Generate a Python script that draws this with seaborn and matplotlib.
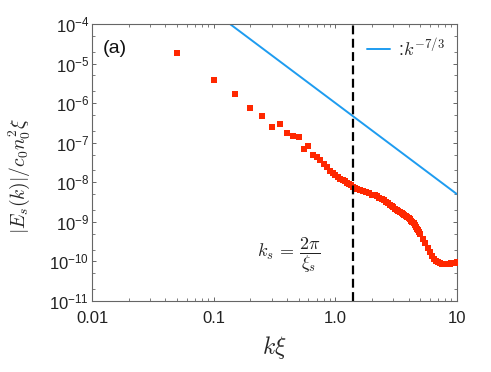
import numpy as np
import pandas as pd
import matplotlib
matplotlib.use("Agg")
import matplotlib.pyplot as plt
import matplotlib.ticker as mticker
import seaborn as sns

# ---- data ----
k_vals = [0.05, 0.10, 0.15, 0.20, 0.25, 0.30, 0.35, 0.40, 0.45, 0.50,
          0.55, 0.60, 0.65, 0.70, 0.75, 0.80, 0.85, 0.90, 0.95, 1.00,
          1.05, 1.10, 1.15, 1.20, 1.25, 1.30, 1.35, 1.40, 1.45, 1.50,
          1.6, 1.7, 1.8, 1.9, 2.0, 2.1, 2.2, 2.3, 2.4, 2.5,
          2.6, 2.7, 2.8, 2.9, 3.0, 3.1, 3.2, 3.3, 3.4, 3.5,
          3.6, 3.7, 3.8, 3.9, 4.0, 4.1, 4.2, 4.3, 4.4, 4.5,
          4.6, 4.7, 4.8, 4.9, 5.0, 5.25, 5.5, 5.75, 6.0, 6.25,
          6.5, 6.75, 7.0, 7.25, 7.5, 7.75, 8.0, 8.25, 8.5, 8.75,
          9.0, 9.25, 9.5, 9.75, 10.0]
E_vals = [1.87e-5, 3.8e-6, 1.69e-6, 7.6e-7, 4.8e-7, 2.5e-7, 2.9e-7, 1.8e-7, 1.5e-7, 1.38e-7,
          7.1e-8, 8.1e-8, 5.0e-8, 4.4e-8, 3.7e-8, 2.97e-8, 2.44e-8, 1.95e-8, 1.69e-8, 1.50e-8,
          1.34e-8, 1.23e-8, 1.12e-8, 1.06e-8, 9.7e-9, 8.9e-9, 8.4e-9, 7.6e-9, 7.05e-9, 6.84e-9,
          6.31e-9, 5.96e-9, 5.62e-9, 5.31e-9, 4.90e-9, 4.68e-9, 4.42e-9, 4.12e-9, 3.80e-9, 3.47e-9,
          3.16e-9, 2.92e-9, 2.69e-9, 2.51e-9, 2.33e-9, 2.16e-9, 2.01e-9, 1.86e-9, 1.74e-9, 1.64e-9,
          1.55e-9, 1.46e-9, 1.38e-9, 1.30e-9, 1.23e-9, 1.15e-9, 1.06e-9, 9.89e-10, 9.12e-10, 8.32e-10,
          7.50e-10, 6.76e-10, 6.10e-10, 5.43e-10, 4.84e-10, 3.72e-10, 2.86e-10, 2.20e-10, 1.69e-10, 1.38e-10,
          1.16e-10, 1.03e-10, 9.4e-11, 9.0e-11, 8.7e-11, 8.65e-11, 8.6e-11, 8.6e-11, 8.65e-11, 8.75e-11,
          8.9e-11, 9.05e-11, 9.2e-11, 9.3e-11, 9.4e-11]

# guide line  k^(-7/3) (end points)
guide_k = [0.136, 10.0]
guide_E = [1.0e-4, 5.0e-9]
guide_label = r":$k^{-7/3}$"

k_s = 1.4
x_ticks = [0.01, 0.1, 1.0, 10]
x_ticklabels = ["0.01", "0.1", "1.0", "10"]
y_exponents = [-4, -5, -6, -7, -8, -9, -10, -11]

# ---- style ----
sns.set_theme(style="ticks")
plt.rcParams["font.family"] = ["Liberation Sans", "DejaVu Sans"]
plt.rcParams["mathtext.fontset"] = "custom"
plt.rcParams["mathtext.rm"] = "Liberation Sans"
plt.rcParams["mathtext.it"] = "Liberation Sans:italic"
plt.rcParams["axes.edgecolor"] = "#666666"
plt.rcParams["axes.linewidth"] = 0.8

fig = plt.figure(figsize=(4.91, 3.72), dpi=100)
ax = fig.add_axes([0.1874, 0.1909, 0.7434, 0.7446])

df = pd.DataFrame({"k": k_vals, "E": E_vals})
sns.scatterplot(data=df, x="k", y="E", ax=ax, marker="s", s=15, color="#ff2800",
                linewidth=0, zorder=3)

gdf = pd.DataFrame({"k": guide_k, "E": guide_E})
sns.lineplot(data=gdf, x="k", y="E", ax=ax, color="#1e9cf0", linewidth=1.4,
             label=guide_label, zorder=2)

ax.axvline(k_s, color="black", linewidth=1.6, linestyle=(0, (4, 2)), zorder=4)

ax.set_xscale("log")
ax.set_yscale("log")
ax.set_xlim(0.01, 10)
ax.set_ylim(1e-11, 1e-4)

ax.set_xticks(x_ticks)
ax.set_xticklabels(x_ticklabels)
ax.set_yticks([10.0 ** e for e in y_exponents])
ax.set_yticklabels([r"$\mathregular{10^{%d}}$" % e for e in y_exponents])
ax.yaxis.set_minor_locator(mticker.LogLocator(base=10, subs=(2.0, 5.0), numticks=20))
ax.yaxis.set_minor_formatter(mticker.NullFormatter())
ax.xaxis.set_minor_locator(mticker.LogLocator(base=10, subs=np.arange(2, 10), numticks=20))
ax.xaxis.set_minor_formatter(mticker.NullFormatter())

ax.tick_params(which="both", direction="in", top=True, right=True, colors="#666666",
               labelcolor="#222222", labelsize=12)
ax.tick_params(axis="x", which="major", pad=7)
ax.tick_params(axis="y", which="major", pad=2)
ax.tick_params(which="major", length=3, width=0.7)
ax.tick_params(which="minor", length=2, width=0.6)
for sp in ax.spines.values():
    sp.set_visible(True)

ax.set_xlabel(r"$k\xi$", fontsize=17, math_fontfamily="cm", labelpad=6)
ax.set_ylabel(r"$|E_s(k)|/c_0n_0^2\xi$", fontsize=14, math_fontfamily="cm")
ax.yaxis.set_label_coords(-0.165, 0.45)

ax.text(0.03, 0.91, "(a)", transform=ax.transAxes, fontsize=14, ha="left", va="center",
        color="#111111")
ax.text(0.54, 0.165, r"$k_s\,=\,\dfrac{2\pi}{\xi_s}$", transform=ax.transAxes, fontsize=13,
        math_fontfamily="cm", ha="center", va="center", color="#222222")

leg = ax.legend(loc="upper right", frameon=False, fontsize=13, handlelength=1.3,
                handletextpad=0.4, borderaxespad=0.3)
for t in leg.get_texts():
    t.set_math_fontfamily("cm")

fig.savefig("out.png", dpi=100)
